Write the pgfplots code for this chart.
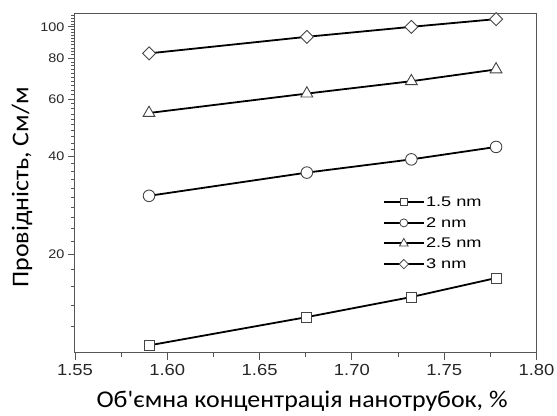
\documentclass[border=0pt]{standalone}
\usepackage{fontspec}
\setmainfont{Liberation Sans}
\newfontfamily\tickfont[FakeStretch=1.15]{Liberation Sans}
\newfontfamily\legfont[FakeStretch=1.3]{Liberation Sans}
\newfontfamily\labelfont[FakeStretch=1.08]{Carlito}
\usepackage{pgfplots}
\pgfplotsset{compat=1.18}
\definecolor{axgray}{HTML}{555555}
\definecolor{mkgray}{HTML}{444444}
\begin{document}
\begin{tikzpicture}
\begin{axis}[
  scale only axis,
  width=461.5pt, height=338.7pt,
  xmin=1.55, xmax=1.80,
  ymode=log, ymin=10, ymax=109.5,
  xtick={1.55,1.60,1.65,1.70,1.75,1.80},
  xticklabels={1.55,1.60,1.65,1.70,1.75,1.80},
  minor xtick={1.575,1.625,1.675,1.725,1.775},
  ytick={20,40,60,80,100},
  yticklabels={20,40,60,80,100},
  minor ytick={12,14,16,18,22,24,26,28,30,32,34,36,38,42,44,46,48,50,52,54,56,58,62,64,66,68,70,72,74,76,78,82,84,86,88,90,92,94,96,98,102,104,106,108},
  tick pos=left,
  tick align=outside,
  major tick length=7pt,
  minor tick length=4pt,
  axis line style={draw=axgray, line width=1pt},
  every tick/.style={draw=axgray, line width=0.9pt},
  xticklabel style={font=\tickfont\fontsize{16}{16}\selectfont, text=black!85, yshift=-1pt},
  yticklabel style={font=\tickfont\fontsize{12.5}{12.5}\selectfont, text=black!85},
  xlabel={Об'ємна концентрація нанотрубок, \%},
  ylabel={Провідність, См/м},
  xlabel style={font=\labelfont\fontsize{24}{24}\selectfont, at={(axis description cs:0.492,-0.1612)}, anchor=base},
  ylabel style={font=\labelfont\fontsize{24}{24}\selectfont, at={(axis description cs:-0.1012,0.488)}, anchor=base},
  legend cell align=left,
  legend style={draw=none, fill=none, at={(axis description cs:0.667,0.4745)}, anchor=north west,
    inner sep=0pt, outer sep=0pt, row sep=0pt,
    font=\legfont\fontsize{14}{14}\selectfont,
    nodes={inner xsep=1.2pt, inner ysep=0pt, minimum height=20.6pt}},
  legend image code/.code={\draw[mark repeat=2,mark phase=2] plot coordinates {(0pt,0pt) (20pt,0pt) (40pt,0pt)};},
]
\addplot[black, line width=1.8pt, mark=square*, mark size=5pt, mark options={fill=white, draw=mkgray, line width=0.9pt}, forget plot]
  coordinates {(1.5901,10.53) (1.6756,12.86) (1.7322,14.82) (1.7781,16.95)};
\addplot[black, line width=1.8pt, mark=*, mark size=5.8pt, mark options={fill=white, draw=mkgray, line width=0.9pt}, forget plot]
  coordinates {(1.5901,30.3) (1.6756,35.7) (1.7322,39.2) (1.7781,42.8)};
\addplot[black, line width=1.8pt, mark=triangle*, mark size=6.8pt, mark options={fill=white, draw=mkgray, line width=0.9pt}, forget plot]
  coordinates {(1.5901,54.4) (1.6756,62.4) (1.7322,68.1) (1.7781,74.0)};
\addplot[black, line width=1.8pt, mark=square*, mark size=4.6pt, mark options={fill=white, draw=mkgray, line width=0.9pt, rotate=45}, forget plot]
  coordinates {(1.5901,82.9) (1.6756,93.2) (1.7322,100.0) (1.7781,105.6)};
\addlegendimage{black, line width=2pt, mark=square*, mark size=3.5pt, mark options={fill=white, draw=mkgray, line width=0.8pt}}
\addlegendentry{1.5 nm}
\addlegendimage{black, line width=2pt, mark=*, mark size=4pt, mark options={fill=white, draw=mkgray, line width=0.8pt}}
\addlegendentry{2 nm}
\addlegendimage{black, line width=2pt, mark=triangle*, mark size=5pt, mark options={fill=white, draw=mkgray, line width=0.8pt}}
\addlegendentry{2.5 nm}
\addlegendimage{black, line width=2pt, mark=square*, mark size=3.3pt, mark options={fill=white, draw=mkgray, line width=0.8pt, rotate=45}}
\addlegendentry{3 nm}
\end{axis}
\pgfresetboundingbox
\path ([shift={(-75pt,-63.3pt)}]current axis.south west) rectangle ([shift={(20.5pt,14pt)}]current axis.north east);
\end{tikzpicture}
\end{document}
